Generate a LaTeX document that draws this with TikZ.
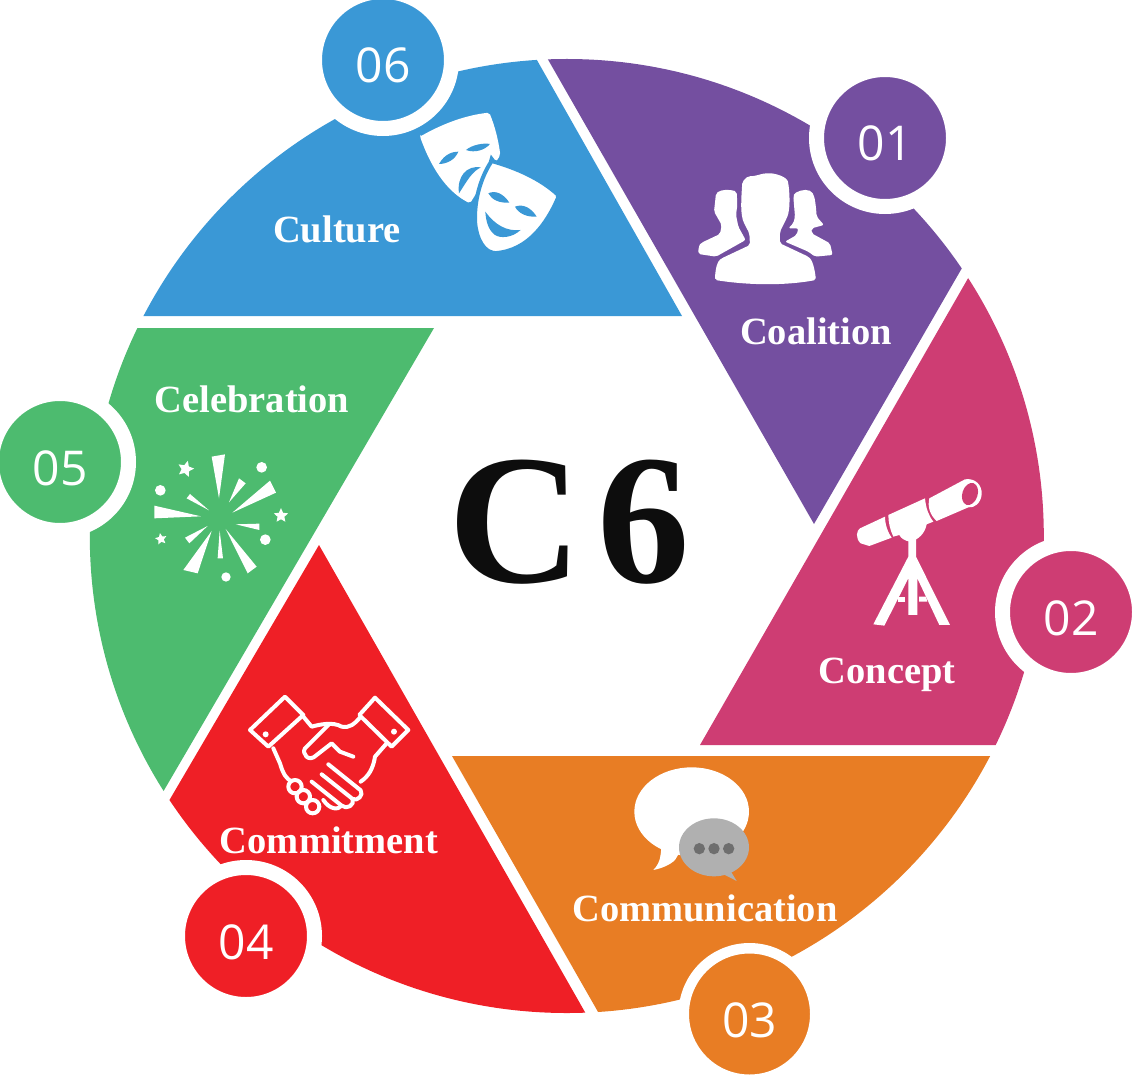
\documentclass[tikz,border=0pt]{standalone}
\usepackage{fontspec}
\usetikzlibrary{shapes.geometric}
\setmainfont{Liberation Serif}
\newfontfamily\numfont{Open Sans}
\definecolor{coalitionc}{HTML}{744FA0}
\definecolor{conceptc}{HTML}{CE3D73}
\definecolor{commc}{HTML}{E87D24}
\definecolor{commitc}{HTML}{EF1F26}
\definecolor{celebc}{HTML}{4DBB6F}
\definecolor{culturec}{HTML}{3A98D6}
\tikzset{
  numdisc/.style={circle, draw=white, line width=15pt, minimum size=137pt, inner sep=0pt, outer sep=0pt, text=white, text height=46pt, text depth=0pt, font=\numfont\fontsize{48}{48}\selectfont},
  seglabel/.style={text=white, font=\fontsize{38.5}{38.5}\selectfont\bfseries, inner sep=0pt},
  icon/.style={x=0.3333pt, y=-0.3333pt},
  hline/.style={draw=white, line width=4pt, line join=round, line cap=round},
  spark/.style={star, star points=5, star point ratio=2.1, fill=white, inner sep=0pt}
}
\begin{document}
\begin{tikzpicture}[x=1pt, y=-1pt]
  \useasboundingbox (0,0) rectangle (1132,1075);
  % segments
  \begin{scope}
    \clip (566.8,536) circle (477);
    \fill[coalitionc] (814,524) -- (495,-33) -- (1100,-100) -- (1036,140) -- cycle;
    \fill[conceptc] (700,745) -- (1102,45) -- (1250,400) -- (1100,745) -- cycle;
    \fill[commc] (452,756) -- (1150,756) -- (1100,1100) -- (642,1089) -- cycle;
    \fill[commitc] (319,545) -- (639,1107) -- (300,1150) -- (95,927) -- cycle;
    \fill[celebc] (434,328) -- (20,328) -- (-50,700) -- (83,929) -- cycle;
    \fill[culturec] (682,316) -- (0,316) -- (100,-50) -- (508,9) -- cycle;
  \end{scope}
  % numbers
  \node[numdisc, fill=coalitionc] (n01) at (885,138) {01};
  \node[numdisc, fill=conceptc] (n02) at (1071,612) {02};
  \node[numdisc, fill=commc, line width=10.5pt, minimum size=131.5pt] (n03) at (749.5,1014) {03};
  \node[numdisc, fill=commitc] (n04) at (246,936) {04};
  \node[numdisc, fill=celebc] (n05) at (60,462) {05};
  \node[numdisc, fill=culturec] (n06) at (383,60) {06};
  % labels
  \node[seglabel] (coalition) at (816,331) {Coalition};
  \node[seglabel] (concept) at (887,675) {Concept};
  \node[seglabel] (communication) at (705,908) {Communication};
  \node[seglabel] (commitment) at (329,840) {Commitment};
  \node[seglabel] (celebration) at (252,399) {Celebration};
  \node[seglabel] (culture) at (337,229) {Culture};
  \node[inner sep=0pt, text=black!95, font=\fontsize{185}{185}\selectfont\bfseries] (title) at (569,522) {C\hspace{15pt}6};
  % masks
  \begin{scope}[shift={(400,90)}, icon]
    \fill[white, rounded corners=2pt] (60,140) .. controls (130,100) and (200,75) .. (268,68) .. controls (285,110) and (295,150) .. (301,195) -- (210,340) .. controls (150,310) and (100,250) .. (60,140) -- cycle;
    \fill[culturec] (117,222) .. controls (135,190) and (160,185) .. (175,185) .. controls (165,210) and (140,222) .. (117,222) -- cycle;
    \fill[culturec] (198,180) .. controls (215,165) and (250,158) .. (270,162) .. controls (255,180) and (225,190) .. (198,180) -- cycle;
    \fill[culturec] (177,310) .. controls (170,260) and (200,225) .. (243,232) .. controls (215,245) and (200,275) .. (177,310) -- cycle;
    \filldraw[fill=white, draw=culturec, line width=4pt, rounded corners=2pt] (275,213) .. controls (350,235) and (420,265) .. (477,317) .. controls (450,380) and (400,470) .. (300,488) .. controls (250,495) and (228,440) .. (225,390) .. controls (225,320) and (245,260) .. (275,213) -- cycle;
    \fill[culturec] (265,310) .. controls (285,300) and (310,310) .. (328,338) .. controls (300,340) and (275,330) .. (265,310) -- cycle;
    \fill[culturec] (345,350) .. controls (370,340) and (395,355) .. (410,380) .. controls (380,382) and (355,370) .. (345,350) -- cycle;
    \fill[culturec] (256,365) .. controls (285,405) and (320,425) .. (362,420) .. controls (335,445) and (300,445) .. (285,435) .. controls (265,420) and (258,395) .. (256,365) -- cycle;
  \end{scope}
  % people
  \begin{scope}[shift={(680,160)}, icon]
    \fill[white, rounded corners=2pt] (105,360) .. controls (106,325) and (112,305) .. (125,295) -- (210,255) -- (208,220) -- (190,185) .. controls (180,150) and (185,100) .. (187,65) -- (205,48) .. controls (225,50) and (245,40) .. (265,40) .. controls (285,40) and (320,50) .. (325,70) .. controls (330,110) and (330,150) .. (320,175) -- (300,215) -- (300,250) -- (385,290) .. controls (400,305) and (405,335) .. (408,360) .. controls (310,378) and (200,375) .. (105,360) -- cycle;
    \fill[white, rounded corners=2pt] (55,282) .. controls (55,265) and (58,255) .. (65,248) -- (120,222) -- (125,195) -- (108,165) -- (102,155) -- (108,100) .. controls (125,88) and (150,88) .. (170,95) -- (172,135) -- (168,165) -- (175,200) -- (197,240) -- (108,290) -- cycle;
    \fill[white, rounded corners=2pt] (315,245) -- (350,225) -- (355,205) -- (325,205) -- (340,190) -- (345,170) -- (340,110) .. controls (345,95) and (375,85) .. (395,95) .. controls (405,110) and (408,140) .. (410,170) -- (432,195) -- (395,205) -- (395,220) -- (450,250) -- (458,285) -- (405,290) -- (385,275) -- cycle;
  \end{scope}
  % telescope
  \begin{scope}[shift={(840,465)}, icon]
    \fill[white] (268,100) -- (375,43) .. controls (405,38) and (427,60) .. (425,88) .. controls (423,114) and (403,130) .. (385,127) -- (290,168) .. controls (270,150) and (262,125) .. (268,100) -- cycle;
    \fill[conceptc] (390,87) ellipse[x radius=23, y radius=34, rotate=-18];
    \fill[white] (145,150) -- (255,100) .. controls (258,130) and (265,150) .. (280,170) -- (260,178) .. controls (255,205) and (235,225) .. (210,230) .. controls (195,228) and (183,220) .. (178,210) -- (160,215) .. controls (150,195) and (145,170) .. (145,150) -- cycle;
    \fill[white] (60,190) -- (135,155) .. controls (135,180) and (145,205) .. (155,218) -- (88,243) -- (62,235) .. controls (45,220) and (50,195) .. (60,190) -- cycle;
    \fill[white] (100,478) -- (205,275) -- (205,222) -- (228,222) -- (228,275) -- (330,480) -- (298,480) -- (232,340) -- (232,450) -- (205,450) -- (205,340) -- (133,482) -- cycle;
    \fill[white] (175,395) -- (195,395) -- (195,410) -- (175,410) -- cycle;
    \fill[white] (237,395) -- (258,395) -- (262,410) -- (237,410) -- cycle;
  \end{scope}
  % speech bubbles
  \begin{scope}[shift={(620,755)}, icon]
    \fill[white] (215,170) ellipse[x radius=172, y radius=133];
    \fill[white] (125,270) -- (122,298) .. controls (120,320) and (110,335) .. (100,345) .. controls (125,340) and (150,330) .. (165,315) -- (180,290) -- cycle;
    \fill[black!31] (282,277) ellipse[x radius=105, y radius=87];
    \fill[black!31] (305,355) -- (350,378) -- (330,345) -- cycle;
    \fill[black!57] (238,281) circle (17);
    \fill[black!57] (282,281) circle (17);
    \fill[black!57] (326,281) circle (17);
  \end{scope}
  % handshake
  \begin{scope}[shift={(240,685)}, icon]
    \draw[hline] (135,35) -- (190,90) -- (85,185) -- (30,135) -- cycle;
    \draw[hline] (405,38) -- (505,135) -- (455,185) -- (358,90) -- cycle;
    \fill[white] (77,148) circle (9);
    \fill[white] (462,140) circle (9);
    \draw[hline] (190,95) -- (215,125) .. controls (240,118) and (280,110) .. (305,125) .. controls (330,130) and (345,115) .. (358,100);
    \draw[hline] (265,120) -- (195,190) .. controls (185,205) and (205,235) .. (230,210) -- (275,175) -- (300,200) -- (340,215);
    \draw[hline] (100,190) -- (120,235) .. controls (130,270) and (140,280) .. (152,288);
    \draw[hline] (440,175) -- (405,215) .. controls (400,250) and (385,275) .. (362,290);
    \draw[hline] (265,238) -- (362,316) .. controls (372,330) and (352,350) .. (338,342) -- (245,268);
    \draw[hline] (338,342) .. controls (345,360) and (320,375) .. (305,362) -- (215,290);
    \draw[hline] (305,362) .. controls (295,375) and (270,375) .. (250,345);
    \draw[hline] (165,305) circle (20);
    \draw[hline] (190,335) circle (20);
    \draw[hline] (218,365) circle (20);
  \end{scope}
  % fireworks
  \begin{scope}[shift={(145,445)}, icon]
    \fill[white] (200,35) -- (240,28) -- (222,160) -- cycle;
    \fill[white] (282,100) -- (302,115) -- (252,172) -- cycle;
    \fill[white] (375,107) -- (393,143) -- (262,203) -- cycle;
    \fill[white] (343,236) -- (343,255) -- (272,238) -- cycle;
    \fill[white] (335,365) -- (308,385) -- (242,252) -- cycle;
    \fill[white] (218,340) -- (234,340) -- (224,257) -- cycle;
    \fill[white] (115,375) -- (158,385) -- (200,258) -- cycle;
    \fill[white] (120,278) -- (133,295) -- (188,243) -- cycle;
    \fill[white] (28,182) -- (28,220) -- (168,214) -- cycle;
    \fill[white] (135,147) -- (125,160) -- (192,196) -- cycle;
    \fill[white] (350,67) circle (16);
    \fill[white] (46,136) circle (16);
    \fill[white] (361,284) circle (16);
    \fill[white] (243,396) circle (14);
    \node[spark, minimum size=17pt, rotate=-15] (star1) at (122,72) {};
    \node[spark, minimum size=15pt] (star2) at (408,212) {};
    \node[spark, minimum size=12pt, rotate=10] (star3) at (48,282) {};
  \end{scope}
\end{tikzpicture}
\end{document}
